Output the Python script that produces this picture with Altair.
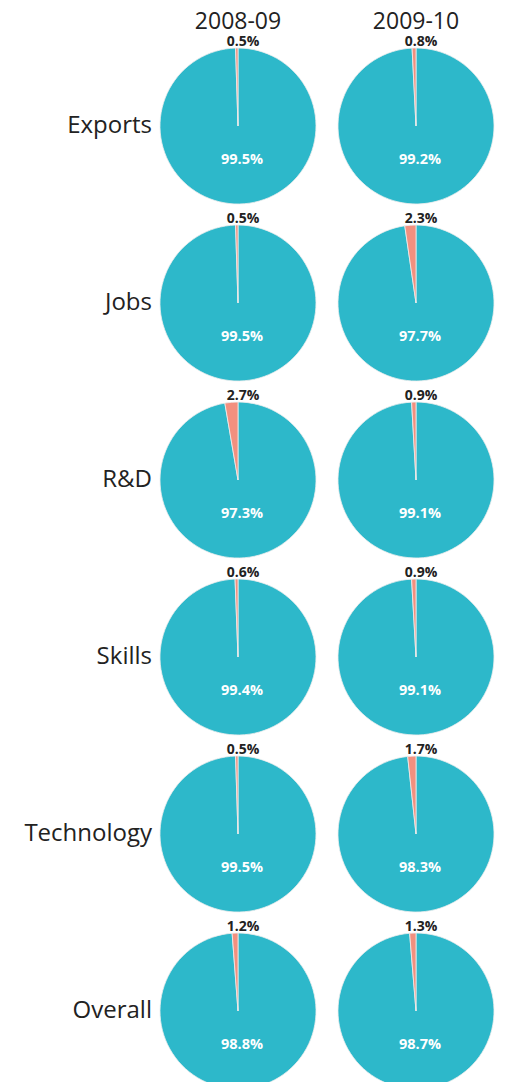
import altair as alt
import pandas as pd

categories = ["Exports", "Jobs", "R&D", "Skills", "Technology", "Overall"]
years = ["2008-09", "2009-10"]
small_2008 = [0.5, 0.5, 2.7, 0.6, 0.5, 1.2]
big_2008 = [99.5, 99.5, 97.3, 99.4, 99.5, 98.8]
small_2009 = [0.8, 2.3, 0.9, 0.9, 1.7, 1.3]
big_2009 = [99.2, 97.7, 99.1, 99.1, 98.3, 98.7]

rows = []
for yr, smalls, bigs in [(years[0], small_2008, big_2008), (years[1], small_2009, big_2009)]:
    for cat, s, b in zip(categories, smalls, bigs):
        rows.append({"category": cat, "year": yr, "part": "big", "value": b, "label": f"{b:.1f}%"})
        rows.append({"category": cat, "year": yr, "part": "small", "value": s, "label": f"{s:.1f}%"})
df = pd.DataFrame(rows)

TEAL = "#2DB8CA"
SALMON = "#F2907F"
FONT = "Open Sans"

arc = alt.Chart().mark_arc(outerRadius=78, stroke="#eeeeee", strokeWidth=0.8).encode(
    theta=alt.Theta("value:Q", stack=True),
    color=alt.Color("part:N", scale=alt.Scale(domain=["big", "small"], range=[TEAL, SALMON]), legend=None),
    order=alt.Order("part:N", sort="ascending"),
)

small_text = alt.Chart().transform_filter(alt.datum.part == "small").mark_text(
    theta=0, radius=84, dx=5, font=FONT, fontWeight="bold", fontSize=14, color="#222222", baseline="middle"
).encode(text="label:N")

big_text = alt.Chart().transform_filter(alt.datum.part == "big").mark_text(
    theta=3.14159, radius=34, dx=4, font=FONT, fontWeight="bold", fontSize=14.5, color="white", baseline="middle"
).encode(text="label:N")

row_label = alt.Chart().transform_filter(
    (alt.datum.part == "small") & (alt.datum.year == years[0])
).mark_text(
    x=-6, y=80, align="right", baseline="middle", font=FONT, fontSize=24, color="#222222"
).encode(text="category:N")

chart = alt.layer(arc, small_text, big_text, row_label, data=df).properties(width=160, height=160).facet(
    row=alt.Row("category:N", sort=categories, header=alt.Header(title=None, labels=False)),
    column=alt.Column("year:N", sort=years, header=alt.Header(
        title=None, labelFontSize=23, labelFont=FONT, labelColor="#222222", labelPadding=12)),
    spacing={"row": 17, "column": 18},
    bounds="flush",
).properties(
    padding={"left": 16, "top": 3, "right": 5, "bottom": 5}
).configure_view(stroke=None)

chart.save("out.html", embed_options={"renderer": "svg", "actions": False})
